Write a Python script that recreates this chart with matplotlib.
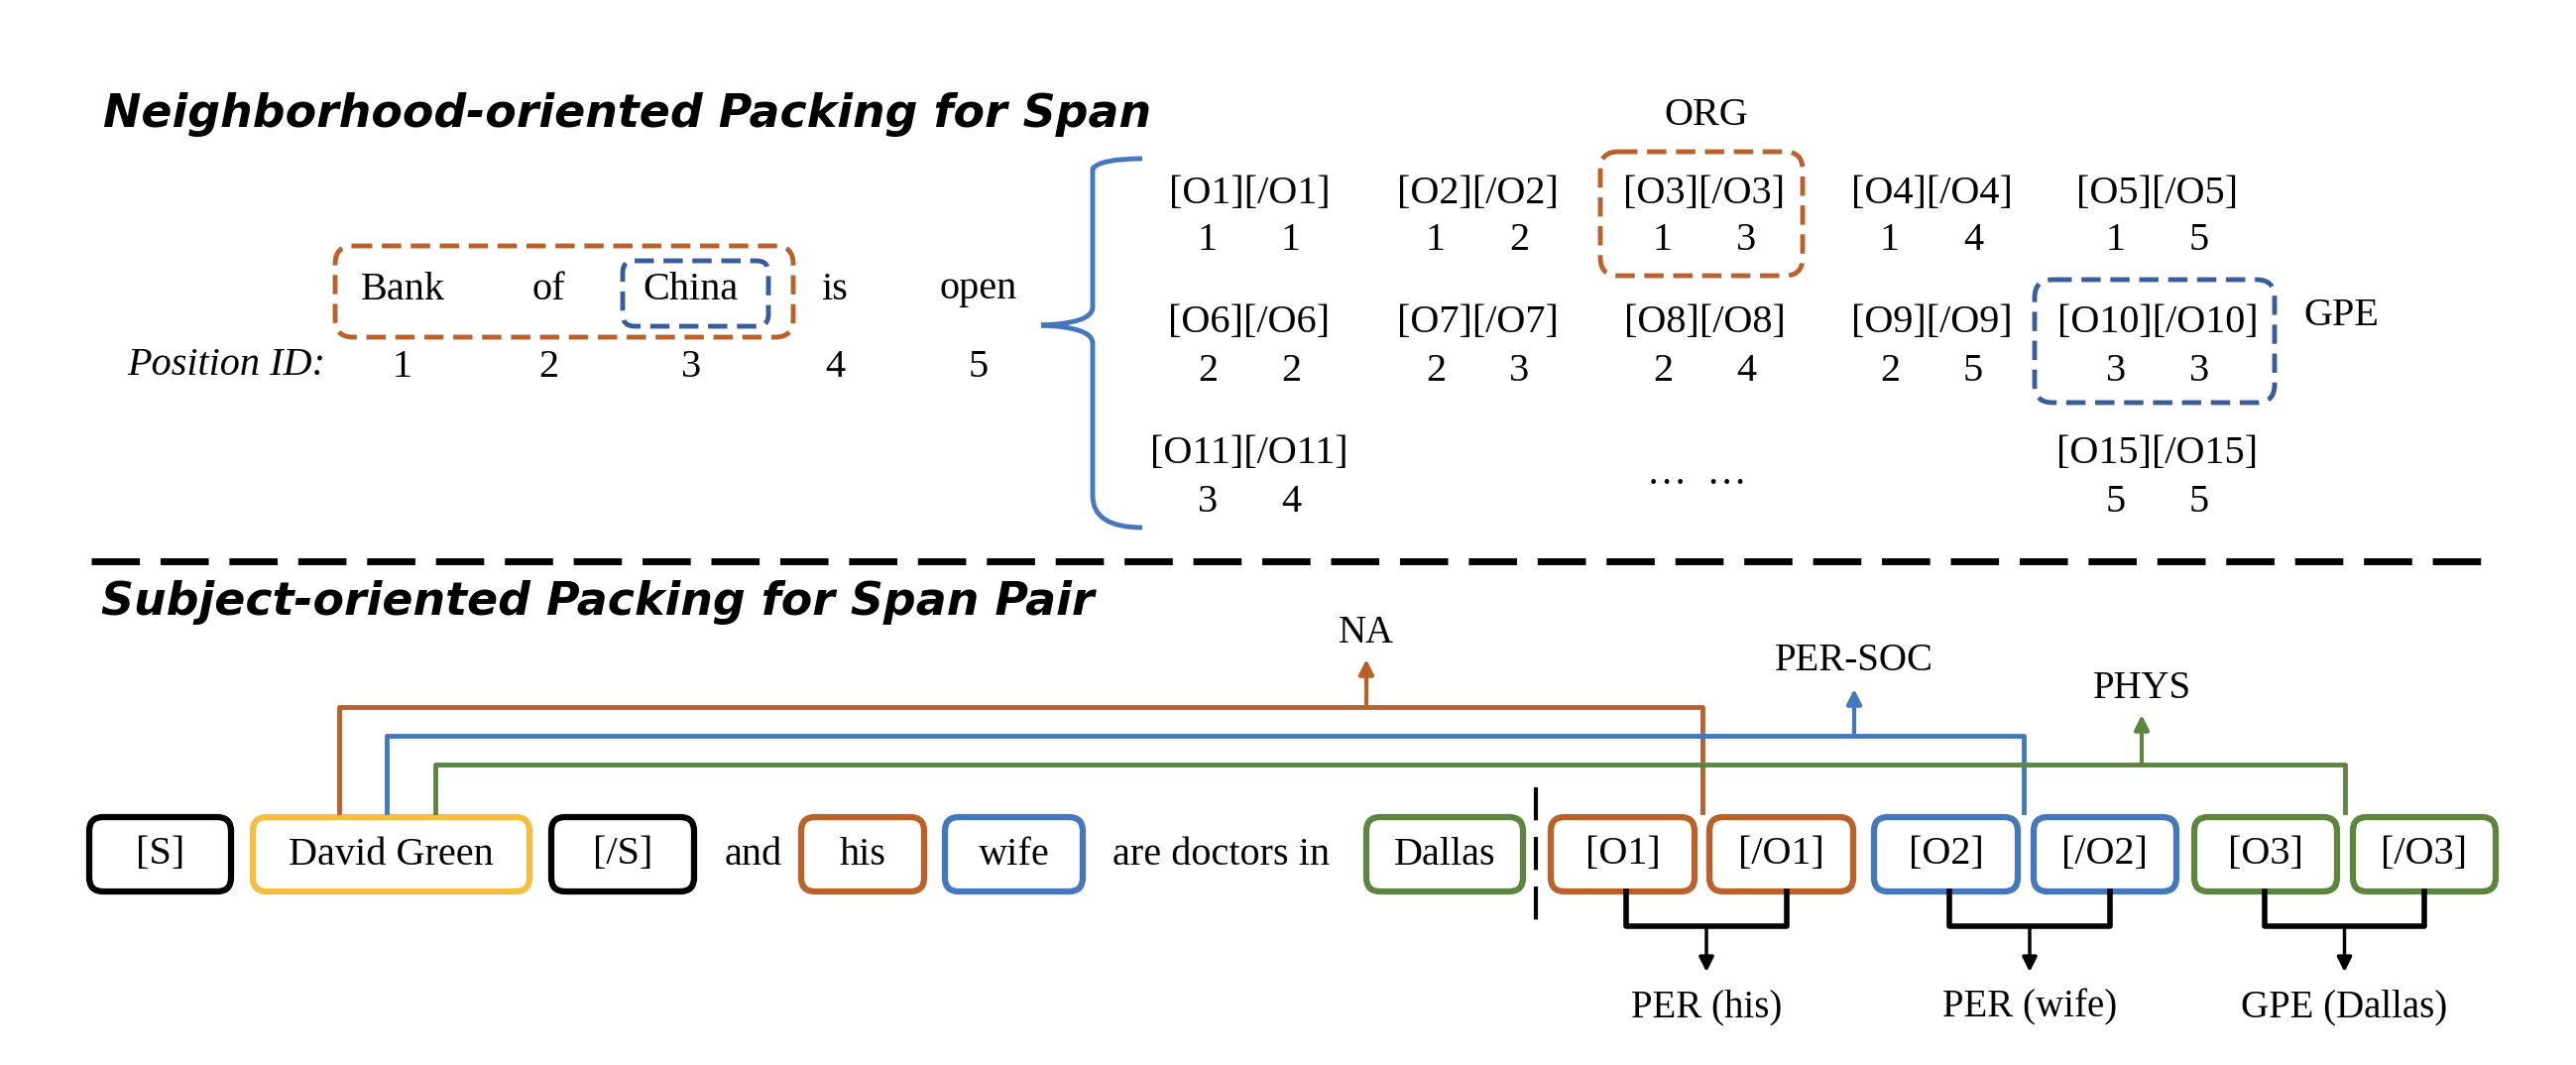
import matplotlib.pyplot as plt
from matplotlib.patches import FancyBboxPatch, FancyArrowPatch
from matplotlib.path import Path
from matplotlib.patches import PathPatch

ORANGE = "#B9602B"
BLUE = "#4477BB"
DBLUE = "#3B5C9A"
GREEN = "#5E8540"
YELLOW = "#F5BE40"
SERIF = "Liberation Serif"
FS = 29

words = ["Bank", "of", "China", "is", "open"]
word_x = [406, 553, 697, 842, 987]
pos_ids = [1, 2, 3, 4, 5]

grid_x = [1260, 1490, 1719, 1948, 2176]
row1 = [(1, 1), (1, 2), (1, 3), (1, 4), (1, 5)]
row2 = [(2, 2), (2, 3), (2, 4), (2, 5), (3, 3)]
row1_names = ["O1", "O2", "O3", "O4", "O5"]
row2_names = ["O6", "O7", "O8", "O9", "O10"]

fig = plt.figure(figsize=(25.98, 10.74), dpi=100)
ax = fig.add_axes([0, 0, 1, 1])
ax.set_xlim(0, 2598)
ax.set_ylim(1074, 0)
ax.axis("off")

def txt(x, y, s, **kw):
    kw.setdefault("fontsize", FS)
    kw.setdefault("family", SERIF)
    ax.text(x, y, s, ha="center", va="center", **kw)

def rbox(x0, x1, y0, y1, color, ls="-", lw=4, pad=14):
    ax.add_patch(FancyBboxPatch((x0, y0), x1 - x0, y1 - y0,
                                boxstyle="round,pad=0,rounding_size=%d" % pad,
                                fc="none", ec=color, lw=lw, ls=ls))

# ---- top part
ax.text(104, 116, "Neighborhood-oriented Packing for Span", fontsize=33,
        family="DejaVu Sans", weight="bold", style="italic", va="center")
for w, x, p in zip(words, word_x, pos_ids):
    txt(x, 292, w)
    txt(x, 371, str(p))
txt(228, 368, "Position ID:", style="italic")
rbox(338, 800, 248, 340, ORANGE, ls=(0, (4, 2)), lw=3.5, pad=18)
rbox(628, 775, 263, 329, DBLUE, ls=(0, (4, 2)), lw=3.5, pad=12)

# brace
verts = [(1152, 160), (1110, 160), (1102, 170), (1102, 200),
         (1102, 310), (1102, 326), (1050, 328),
         (1102, 330), (1102, 346), (1102, 360),
         (1102, 500), (1102, 532), (1152, 532)]
codes = [Path.MOVETO, Path.CURVE3, Path.CURVE3, Path.LINETO,
         Path.LINETO, Path.CURVE3, Path.CURVE3,
         Path.CURVE3, Path.CURVE3, Path.LINETO,
         Path.LINETO, Path.CURVE3, Path.CURVE3]
ax.add_patch(PathPatch(Path(verts, codes), fc="none", ec=BLUE, lw=3.5))

for names, vals, yl, yn in [(row1_names, row1, 195, 243), (row2_names, row2, 326, 375)]:
    for n, (a, b), x in zip(names, vals, grid_x):
        txt(x, yl, "[%s][/%s]" % (n, n))
        txt(x - 42, yn, str(a))
        txt(x + 42, yn, str(b))
txt(1260, 458, "[O11][/O11]")
txt(1218, 507, "3"); txt(1302, 507, "4")
txt(2176, 458, "[O15][/O15]")
txt(2134, 507, "5"); txt(2218, 507, "5")
txt(1711, 478, "…  …")
txt(1721, 116, "ORG")
txt(2361, 319, "GPE")
rbox(1614, 1818, 153, 278, ORANGE, ls=(0, (4, 2)), lw=3.5, pad=18)
rbox(2052, 2294, 282, 406, DBLUE, ls=(0, (4, 2)), lw=3.5, pad=18)

# separator
ax.plot([92, 2505], [566, 566], color="black", lw=5, ls=(0, (7, 3)))

# ---- bottom part
ax.text(102, 608, "Subject-oriented Packing for Span Pair", fontsize=33,
        family="DejaVu Sans", weight="bold", style="italic", va="center")

boxes = [("[S]", 90, 233, "black"), ("David Green", 255, 534, YELLOW),
         ("[/S]", 556, 700, "black"), ("his", 808, 932, ORANGE),
         ("wife", 953, 1092, BLUE), ("Dallas", 1378, 1536, GREEN),
         ("[O1]", 1564, 1709, ORANGE), ("[/O1]", 1724, 1869, ORANGE),
         ("[O2]", 1890, 2035, BLUE), ("[/O2]", 2051, 2195, BLUE),
         ("[O3]", 2213, 2357, GREEN), ("[/O3]", 2373, 2517, GREEN)]
for s, x0, x1, c in boxes:
    rbox(x0, x1, 824, 899, c, lw=4.5, pad=14)
    txt((x0 + x1) / 2, 862, s)
txt(760, 862, "and")
txt(1232, 862, "are doctors in")
ax.plot([1549, 1549], [794, 932], color="black", lw=3, ls=(0, (8, 4)))

# relation links
links = [(713, 342, 1717, 1378, 662, ORANGE, "NA", 638),
         (742, 390, 2041, 1870, 692, BLUE, "PER-SOC", 667),
         (771, 439, 2365, 2160, 718, GREEN, "PHYS", 694)]
for y, xa, xb, xm, ytop, c, lab, yl in links:
    ax.plot([xa, xa, xb, xb], [819, y, y, 819], color=c, lw=3.5)
    ax.add_patch(FancyArrowPatch((xm, y), (xm, ytop), arrowstyle="-|>",
                                 mutation_scale=22, color=c, lw=3))
    txt(xm, yl, lab, fontsize=28)

# entity brackets
ents = [(1640, 1802, "PER (his)"), (1966, 2128, "PER (wife)"), (2284, 2445, "GPE (Dallas)")]
for xa, xb, lab in ents:
    xm = (xa + xb) / 2
    ax.plot([xa, xa, xb, xb], [899, 934, 934, 899], color="black", lw=4)
    ax.add_patch(FancyArrowPatch((xm, 934), (xm, 983), arrowstyle="-|>",
                                 mutation_scale=22, color="black", lw=2.5))
    txt(xm, 1016, lab, fontsize=28)

fig.savefig("out.png", dpi=100, facecolor="white")
